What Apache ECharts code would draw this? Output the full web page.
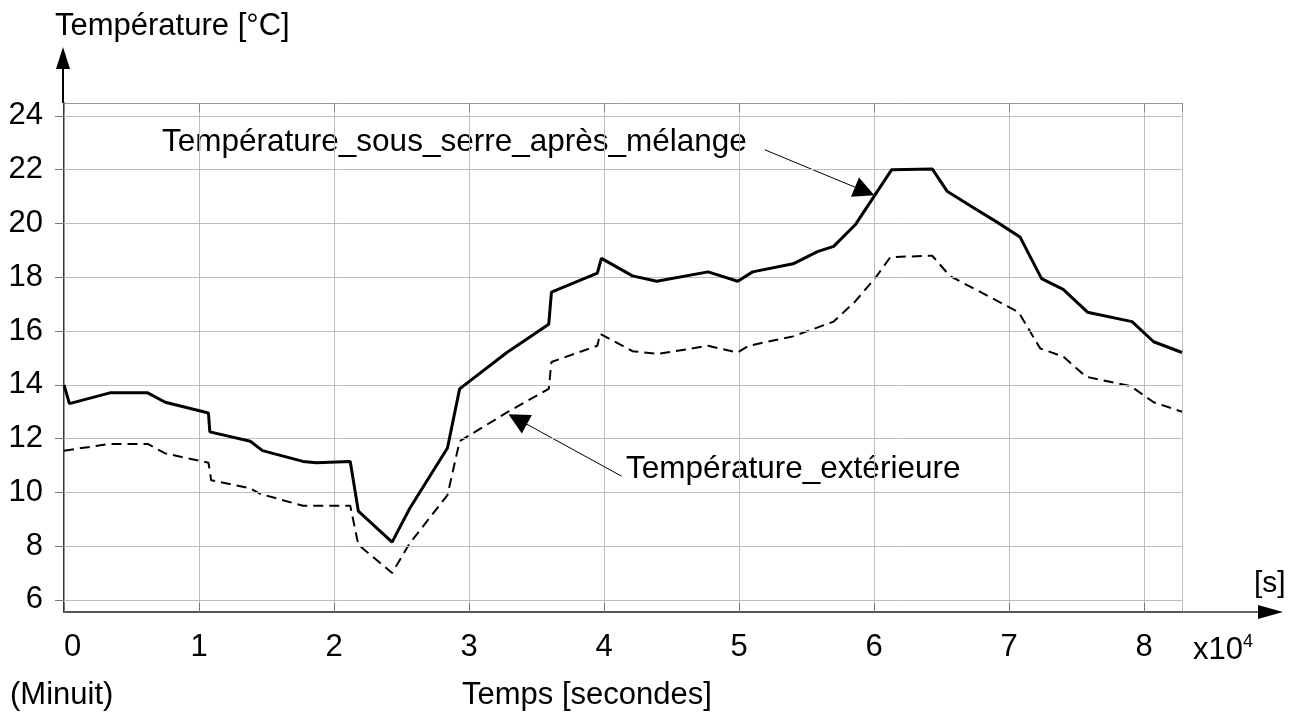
<!DOCTYPE html>
<html>
<head>
<meta charset="utf-8">
<script src="https://cdn.jsdelivr.net/npm/echarts@6/dist/echarts.min.js"></script>
<style>
  html, body { margin: 0; padding: 0; background: #fff; }
  #chart { width: 1295px; height: 718px; }
</style>
</head>
<body>
<div id="chart"></div>
<script>
// temps en x10^4 s, temperatures en °C
var serreTime = [0, 0.04, 0.34, 0.62, 0.75, 1.07, 1.08, 1.38, 1.47, 1.77, 1.87, 2.12, 2.18, 2.43, 2.56,
	2.84, 2.93, 3.28, 3.59, 3.61, 3.95, 3.98, 4.21, 4.39, 4.77, 4.99, 5.10, 5.40, 5.58, 5.70,
	5.86, 6.13, 6.43, 6.54, 6.73, 6.91, 7.08, 7.24, 7.40, 7.58, 7.91, 8.07, 8.28];
var serreTemp = [14.0, 13.3, 13.7, 13.7, 13.35, 12.95, 12.25, 11.9, 11.55, 11.15, 11.1, 11.15, 9.3, 8.15, 9.4,
	11.65, 13.85, 15.2, 16.25, 17.45, 18.15, 18.7, 18.05, 17.85, 18.2, 17.85, 18.2, 18.5, 18.95, 19.15,
	19.95, 22.0, 22.03, 21.2, 20.6, 20.05, 19.5, 17.95, 17.55, 16.7, 16.35, 15.6, 15.2];

var extTime = [0, 0.34, 0.62, 0.75, 1.07, 1.09, 1.38, 1.45, 1.77, 2.12, 2.18, 2.43, 2.56, 2.84, 2.93,
	3.29, 3.59, 3.61, 3.95, 3.97, 4.21, 4.40, 4.77, 4.99, 5.07, 5.40, 5.70, 5.86, 6.02, 6.12,
	6.43, 6.56, 7.07, 7.23, 7.40, 7.57, 7.90, 8.07, 8.28];
var extTemp = [11.55, 11.8, 11.8, 11.45, 11.1, 10.45, 10.15, 9.95, 9.5, 9.5, 8.05, 7.0, 8.1, 9.9, 11.9,
	13.0, 13.85, 14.85, 15.45, 15.9, 15.25, 15.15, 15.45, 15.2, 15.45, 15.8, 16.35, 17.1, 18.05, 18.75,
	18.8, 18.05, 16.7, 15.35, 15.05, 14.3, 13.95, 13.35, 13.0];

var yTicks = [6, 8, 10, 12, 14, 16, 18, 20, 22, 24];

// fleches d'annotation (coordonnees des donnees)
var arrowSerre = [[5.19, 22.74], [5.93, 21.2]];
var arrowExt = [[4.13, 10.6], [3.36, 12.72]];

function zip(xs, ys) {
	var out = [];
	for (var i = 0; i < xs.length; i++) out.push([xs[i], ys[i]]);
	return out;
}

var font = 'Liberation Sans, Arial, sans-serif';
var chart = echarts.init(document.getElementById('chart'), null, { renderer: 'canvas' });

var yAxisBase = {
	type: 'value',
	min: 5.55,
	max: 24.48,
	axisTick: { show: true, inside: true, length: 9, customValues: yTicks, lineStyle: { color: '#777' } },
	splitLine: { show: false }
};

var option = {
	backgroundColor: '#fff',
	animation: false,
	grid: { left: 64, top: 103, right: 113, bottom: 106, containLabel: false },
	xAxis: [{
		type: 'value',
		min: 0,
		max: 8.28,
		interval: 1,
		axisLine: { lineStyle: { color: '#555', width: 2 } },
		axisTick: { inside: true, length: 9, lineStyle: { color: '#777' } },
		axisLabel: { color: '#000', fontSize: 31, fontFamily: font, margin: 20, alignMinLabel: 'left',
			showMaxLabel: false },
		splitLine: { show: true, lineStyle: { color: '#bdbdbd', width: 1 } }
	}, {
		type: 'value',
		position: 'top',
		min: 0,
		max: 8.28,
		interval: 1,
		axisLine: { show: true, lineStyle: { color: '#999', width: 1 } },
		axisTick: { inside: true, length: 9, lineStyle: { color: '#888' } },
		axisLabel: { show: false },
		splitLine: { show: false }
	}],
	yAxis: [Object.assign({}, yAxisBase, {
		axisLine: { show: true, lineStyle: { color: '#333', width: 2 } },
		axisLabel: { customValues: yTicks, color: '#000', fontSize: 31, fontFamily: font, margin: 21 }
	}), Object.assign({}, yAxisBase, {
		position: 'right',
		axisLine: { show: true, lineStyle: { color: '#999', width: 1 } },
		axisLabel: { show: false }
	})],
	series: [{
		name: 'Température_sous_serre_après_mélange',
		type: 'line',
		data: zip(serreTime, serreTemp),
		symbol: 'none',
		lineStyle: { color: '#000', width: 3 },
		z: 5,
		markLine: {
			silent: true,
			symbol: ['none', 'triangle'],
			symbolSize: 21,
			label: { show: false },
			lineStyle: { color: '#000', width: 1, type: 'solid' },
			data: [
				[{ coord: arrowSerre[0] }, { coord: arrowSerre[1] }],
				[{ coord: arrowExt[0] }, { coord: arrowExt[1] }]
			]
		}
	}, {
		name: 'Température_extérieure',
		type: 'line',
		data: zip(extTime, extTemp),
		symbol: 'none',
		lineStyle: { color: '#000', width: 2, type: [10, 6] },
		z: 4,
		markLine: {
			silent: true,
			symbol: 'none',
			label: { show: false },
			lineStyle: { color: '#bdbdbd', width: 1, type: 'solid' },
			data: yTicks.map(function(v) { return { yAxis: v }; })
		}
	}],
	graphic: [
		// prolongement des axes avec fleches
		{ type: 'line', shape: { x1: 63, y1: 103, x2: 63, y2: 62 }, style: { stroke: '#000', lineWidth: 2 } },
		{ type: 'polygon', shape: { points: [[63, 47], [56, 69], [70, 69]] }, style: { fill: '#000' } },
		{ type: 'line', shape: { x1: 1182, y1: 612, x2: 1264, y2: 612 }, style: { stroke: '#333', lineWidth: 1.5 } },
		{ type: 'polygon', shape: { points: [[1283, 612], [1258, 605], [1258, 619]] }, style: { fill: '#000' } },
		{ type: 'text', left: 55, top: 11, style: { text: 'Température [°C]', font: '31px ' + font, fill: '#000' } },
		{ type: 'text', left: 1254, top: 569, style: { text: '[s]', font: '30px ' + font, fill: '#000' } },
		{ type: 'text', left: 1193, top: 633, style: { rich: { b: { font: '31px ' + font }, s: { font: '18px ' + font, verticalAlign: 'top', padding: [0, 0, 16, 0] } },
			text: '{b|x10}{s|4}', fill: '#000' } },
		{ type: 'text', left: 10, top: 680, style: { text: '(Minuit)', font: '31px ' + font, fill: '#000' } },
		{ type: 'text', left: 462, top: 680, style: { text: 'Temps [secondes]', font: '31px ' + font, fill: '#000' } },
		{ type: 'text', left: 162, top: 126, style: { text: 'Température_sous_serre_après_mélange', font: '31.5px ' + font, fill: '#000' } },
		{ type: 'text', left: 626, top: 453, style: { text: 'Température_extérieure', font: '31.5px ' + font, fill: '#000' } }
	]
};

chart.setOption(option);
</script>
</body>
</html>
